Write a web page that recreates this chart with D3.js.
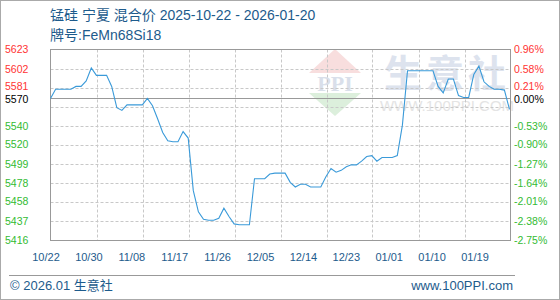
<!DOCTYPE html>
<html>
<head>
<meta charset="utf-8">
<script src="https://cdn.jsdelivr.net/npm/d3@7"></script>
<style>
  body { margin: 0; background: #fff; }
  svg { display: block; font-family: "Liberation Sans", Arial, "Noto Sans CJK SC", sans-serif; }
</style>
</head>
<body>
<div id="chart"></div>
<script>
const title = "锰硅 宁夏 混合价 2025-10-22 - 2026-01-20";
const subtitle = "牌号:FeMn68Si18";
const startDay = "2025-10-22";
const endDay = "2026-01-21"; // exclusive
const basePrice = 5570;

// daily price, 10/22 .. 01/20
const prices = [
  5570, 5580, 5580, 5580, 5580, 5583, 5583, 5589, 5603, 5595,
  5595, 5595, 5583, 5560, 5557, 5563, 5563, 5563, 5563, 5570,
  5562, 5548, 5533, 5524, 5523, 5523, 5534, 5527, 5470, 5447,
  5439, 5438, 5438, 5440, 5451, 5442, 5434, 5433, 5433, 5433,
  5483, 5483, 5483, 5488, 5489, 5489, 5489, 5479, 5474, 5477,
  5477, 5474, 5474, 5474, 5485, 5494, 5490, 5492, 5496, 5498,
  5498, 5502, 5507, 5508, 5502, 5506, 5506, 5506, 5508, 5541,
  5600, 5600, 5600, 5600, 5600, 5600, 5583, 5576, 5591, 5591,
  5573, 5571, 5571, 5596, 5605, 5588, 5583, 5580, 5580, 5579,
  5558
];

const leftTicks = [5623, 5602, 5581, 5570, 5540, 5520, 5499, 5478, 5458, 5437, 5416];
const rightTicks = ["0.96%", "0.58%", "0.21%", "0.00%", "-0.53%", "-0.90%", "-1.27%", "-1.64%", "-2.01%", "-2.38%", "-2.75%"];
const xLabels = ["10/22", "10/30", "11/08", "11/17", "11/26", "12/05", "12/14", "12/23", "01/01", "01/10", "01/19"];

const width = 560, height = 300;
const plot = { left: 50.5, right: 510.5, top: 49.5, bottom: 240.5 };
const red = "#ff3333", green = "#33bb33", navy = "#1d5b8c";

const days = d3.timeDay.range(new Date(startDay + "T00:00"), new Date(endDay + "T00:00"));
const data = days.map((d, i) => ({ date: d, value: prices[i] }));

const svg = d3.select("#chart").append("svg")
  .attr("width", width)
  .attr("height", height);

// outer frame
svg.append("rect")
  .attr("x", 0.5).attr("y", 0.5)
  .attr("width", width - 1).attr("height", height - 1)
  .attr("fill", "#fff").attr("stroke", "#aaa");

// watermark
const wm = svg.append("g").attr("class", "watermark");
wm.append("path").attr("d", "M309,73 L335,49 L361,73 Z").attr("fill", "#f8dede");
wm.append("path").attr("d", "M309,93 L361,93 L335,116 Z").attr("fill", "#dcefdc");
wm.append("text")
  .attr("x", 335).attr("y", 91)
  .attr("text-anchor", "middle")
  .attr("style", "font-family: 'Liberation Serif', serif; font-size: 22px; font-weight: bold; fill: #d9dfea;")
  .text("PPI");
wm.append("text")
  .attr("x", 447).attr("y", 87)
  .attr("text-anchor", "middle")
  .attr("style", "font-family: 'Noto Sans CJK SC', sans-serif; font-size: 38px; font-weight: bold; fill: #dde3ee; letter-spacing: 4px;")
  .text("生意社");
wm.append("text")
  .attr("x", 447).attr("y", 111)
  .attr("text-anchor", "middle")
  .attr("style", "font-size: 15px; fill: #e4e4e4;")
  .text("WWW.100PPI.COM");

const y = d3.scaleLinear().domain([5416, 5623]).range([plot.bottom, plot.top]);
const x = d3.scaleTime().domain([days[0], days[days.length - 1]]).range([plot.left, plot.right - 1]);
const gridX = d3.scaleLinear().domain([0, 10]).range([plot.left, plot.right]);
const labelX = d3.scalePoint().domain(xLabels).range([46, 475]);

// grid
const hGrid = d3.range(1, 10).map(k => 5416 + k * (5623 - 5416) / 10);
svg.append("g").selectAll("line").data(hGrid).join("line")
  .attr("x1", plot.left).attr("x2", plot.right)
  .attr("y1", d => Math.round(y(d)) + 0.5).attr("y2", d => Math.round(y(d)) + 0.5)
  .attr("stroke", "#c8c8c8").attr("stroke-dasharray", "3,2");

svg.append("g").selectAll("line").data(d3.range(1, 10)).join("line")
  .attr("x1", d => Math.round(gridX(d)) + 0.5).attr("x2", d => Math.round(gridX(d)) + 0.5)
  .attr("y1", plot.top).attr("y2", plot.bottom)
  .attr("stroke", "#c8c8c8").attr("stroke-dasharray", "3,2");

// base line
svg.append("line")
  .attr("x1", plot.left).attr("x2", plot.right)
  .attr("y1", Math.round(y(basePrice)) + 0.5).attr("y2", Math.round(y(basePrice)) + 0.5)
  .attr("stroke", "#999");

// plot frame
svg.append("rect")
  .attr("x", plot.left).attr("y", plot.top)
  .attr("width", plot.right - plot.left).attr("height", plot.bottom - plot.top)
  .attr("fill", "none").attr("stroke", "#999");

// price line
const line = d3.line()
  .x(d => x(d.date))
  .y(d => y(d.value));

svg.append("path")
  .datum(data)
  .attr("d", line)
  .attr("fill", "none")
  .attr("stroke", "#3a9ad9")
  .attr("stroke-width", 1.1);

// y labels (the base label and the one above it sit close, nudge them apart a bit)
const tickColor = v => v > basePrice ? red : (v < basePrice ? green : "#000");
const nudge = v => v === basePrice ? 1 : (v === 5581 ? -1.5 : 0);

svg.append("g").selectAll("text").data(leftTicks).join("text")
  .attr("x", 5).attr("y", d => y(d) + nudge(d))
  .attr("dy", "0.35em")
  .attr("style", d => "font-size: 10.5px; fill: " + tickColor(d) + ";")
  .text(d => d);

svg.append("g").selectAll("text").data(rightTicks).join("text")
  .attr("x", 514).attr("y", (d, i) => y(leftTicks[i]) + nudge(leftTicks[i]))
  .attr("dy", "0.35em")
  .attr("style", (d, i) => "font-size: 10.5px; fill: " + tickColor(leftTicks[i]) + ";")
  .text(d => d);

// x labels
svg.append("g").selectAll("text").data(xLabels).join("text")
  .attr("x", d => labelX(d)).attr("y", 257)
  .attr("dy", "0.35em")
  .attr("text-anchor", "middle")
  .attr("style", "font-size: 11px; fill: " + navy + ";")
  .text(d => d);

// titles
svg.append("text")
  .attr("x", 50).attr("y", 20)
  .attr("style", "font-size: 14px; fill: " + navy + ";")
  .text(title);
svg.append("text")
  .attr("x", 50).attr("y", 40)
  .attr("style", "font-size: 14px; fill: " + navy + ";")
  .text(subtitle);

// footer
svg.append("line")
  .attr("x1", 9).attr("x2", 515)
  .attr("y1", 275.5).attr("y2", 275.5)
  .attr("stroke", "#999");
svg.append("text")
  .attr("x", 10).attr("y", 290)
  .attr("style", "font-size: 13px; fill: " + navy + ";")
  .text("© 2026.01 生意社");
svg.append("text")
  .attr("x", 513).attr("y", 290)
  .attr("text-anchor", "end")
  .attr("style", "font-size: 13px; fill: " + navy + ";")
  .text("www.100PPI.com");
</script>
</body>
</html>
